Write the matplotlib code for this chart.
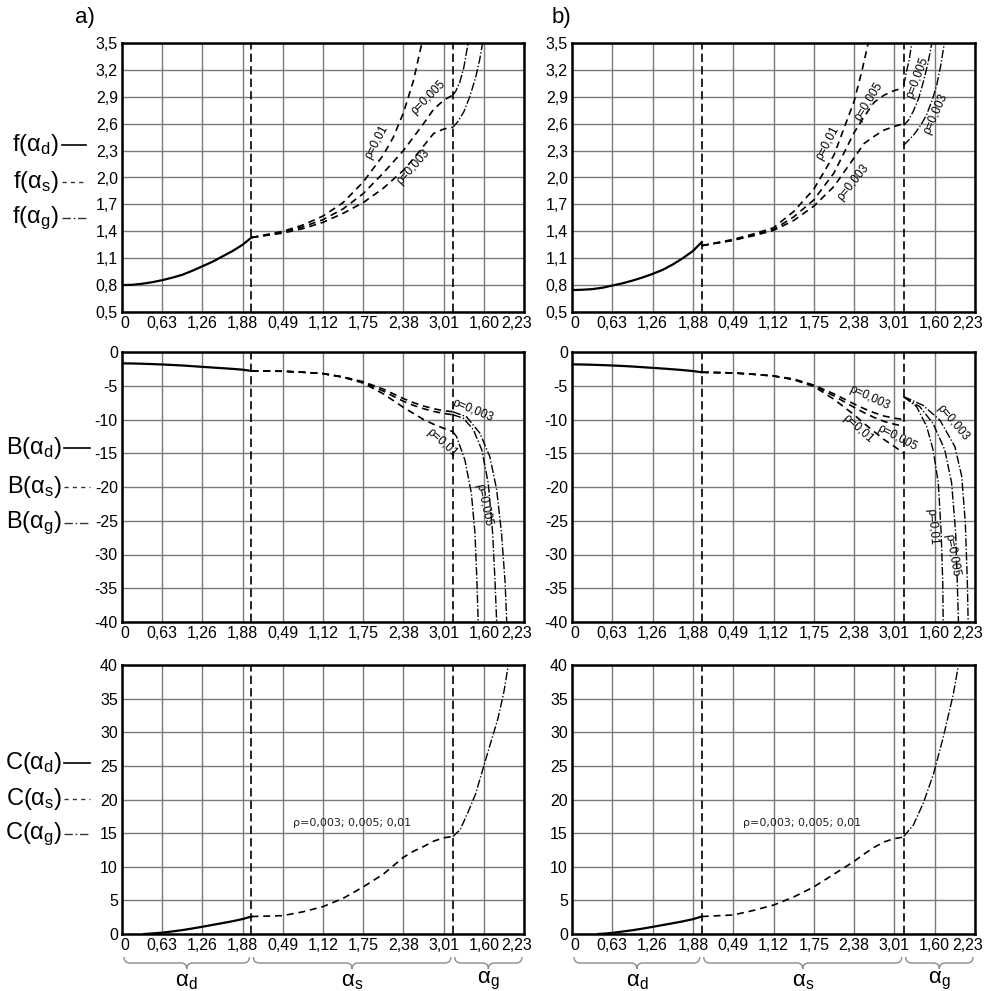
import numpy as np
import matplotlib
matplotlib.use("Agg")
import matplotlib.pyplot as plt
from matplotlib.path import Path
from matplotlib.patches import PathPatch
from matplotlib.lines import Line2D
from matplotlib import font_manager as fm
from matplotlib.transforms import ScaledTranslation


def has_font(name):
    try:
        fm.findfont(fm.FontProperties(family=name), fallback_to_default=False)
        return True
    except Exception:
        return False


TICK_FONT = 'Liberation Sans Narrow' if has_font('Liberation Sans Narrow') else 'Liberation Sans'
TICK_SIZE = 12.5 if TICK_FONT == 'Liberation Sans Narrow' else 11.5

plt.rcParams['font.family'] = [TICK_FONT, 'Liberation Sans', 'DejaVu Sans']
plt.rcParams['lines.scale_dashes'] = False

# ---------------- axis definitions ----------------
# horizontal axis: 11 equally spaced grid positions spanning the three zones
xtick_labels = ['0', '0,63', '1,26', '1,88', '0,49', '1,12', '1,75', '2,38', '3,01', '1,60', '2,23']
zone_bounds = [3.22, 8.23]
zone_names = ['d', 's', 'g']

f_ticks = [0.5, 0.8, 1.1, 1.4, 1.7, 2.0, 2.3, 2.6, 2.9, 3.2, 3.5]
f_ticklabels = ['0,5', '0,8', '1,1', '1,4', '1,7', '2,0', '2,3', '2,6', '2,9', '3,2', '3,5']
B_ticks = [0, -5, -10, -15, -20, -25, -30, -35, -40]
B_ticklabels = ['0', '-5', '-10', '-15', '-20', '-25', '-30', '-35', '-40']
C_ticks = [0, 5, 10, 15, 20, 25, 30, 35, 40]
C_ticklabels = ['0', '5', '10', '15', '20', '25', '30', '35', '40']

# ---------------- data (x in grid positions) ----------------
# zone d (solid)
d_x = [0, 0.25, 0.5, 0.75, 1, 1.25, 1.5, 1.75, 2, 2.25, 2.5, 2.75, 3, 3.22]
f_d_a = [0.80, 0.803, 0.815, 0.832, 0.855, 0.883, 0.915, 0.96, 1.01, 1.06, 1.12, 1.18, 1.25, 1.33]
f_d_b = [0.745, 0.748, 0.755, 0.77, 0.795, 0.82, 0.85, 0.885, 0.925, 0.97, 1.03, 1.10, 1.18, 1.28]
B_d_a = [-1.68, -1.70, -1.74, -1.79, -1.85, -1.92, -2.0, -2.1, -2.2, -2.3, -2.4, -2.5, -2.62, -2.8]
B_d_b = [-1.83, -1.85, -1.89, -1.94, -2.0, -2.07, -2.15, -2.25, -2.35, -2.45, -2.56, -2.68, -2.82, -3.0]
C_d_x_a = [0.55, 0.75, 1, 1.25, 1.5, 1.75, 2, 2.25, 2.5, 2.75, 3, 3.22]
C_d_a = [0.0, 0.08, 0.2, 0.38, 0.58, 0.82, 1.08, 1.35, 1.62, 1.9, 2.22, 2.6]
C_d_x_b = [0.65, 0.85, 1, 1.25, 1.5, 1.75, 2, 2.25, 2.5, 2.75, 3, 3.22]
C_d_b = [0.0, 0.08, 0.17, 0.36, 0.56, 0.8, 1.06, 1.33, 1.6, 1.88, 2.2, 2.6]

# zone s (dashed)
s_x = [3.22, 4, 4.5, 5, 5.5, 6, 6.5, 7, 7.25, 7.5, 7.75, 8, 8.23]
f_s_a_003 = [1.33, 1.38, 1.43, 1.50, 1.60, 1.72, 1.88, 2.08, 2.21, 2.35, 2.49, 2.54, 2.56]
f_s_a_005 = [1.33, 1.39, 1.45, 1.53, 1.65, 1.82, 2.05, 2.30, 2.45, 2.60, 2.76, 2.86, 2.92]
f_s_a_01_x = [3.22, 4, 4.5, 5, 5.5, 6, 6.5, 6.75, 7, 7.25, 7.46]
f_s_a_01 = [1.33, 1.40, 1.47, 1.57, 1.72, 1.95, 2.25, 2.45, 2.72, 3.08, 3.5]
f_s_b_003 = [1.24, 1.30, 1.35, 1.41, 1.52, 1.68, 1.90, 2.22, 2.38, 2.46, 2.53, 2.57, 2.60]
f_s_b_005 = [1.24, 1.30, 1.36, 1.42, 1.56, 1.75, 2.05, 2.50, 2.68, 2.84, 2.92, 2.97, 3.0]
f_s_b_01_x = [3.22, 4, 4.5, 5, 5.5, 6, 6.5, 6.75, 7, 7.2, 7.35]
f_s_b_01 = [1.24, 1.31, 1.37, 1.44, 1.62, 1.87, 2.25, 2.55, 2.85, 3.2, 3.5]

B_s_a_003 = [-2.8, -2.85, -3.0, -3.2, -3.7, -4.4, -5.5, -6.9, -7.5, -8.0, -8.4, -8.7, -8.85]
B_s_a_005 = [-2.8, -2.85, -3.0, -3.2, -3.7, -4.5, -5.8, -7.3, -7.9, -8.4, -8.8, -9.1, -9.3]
B_s_a_01 = [-2.8, -2.85, -3.0, -3.2, -3.75, -4.6, -6.2, -8.2, -9.1, -10.0, -10.7, -11.3, -11.8]
B_s_b_003 = [-3.0, -3.1, -3.3, -3.55, -4.0, -4.9, -6.2, -7.7, -8.4, -9.0, -9.5, -9.8, -10.0]
B_s_b_005 = [-3.0, -3.1, -3.3, -3.55, -4.05, -5.0, -6.5, -8.2, -9.0, -9.7, -10.3, -10.7, -11.0]
B_s_b_01 = [-3.0, -3.1, -3.3, -3.55, -4.1, -5.1, -7.0, -9.3, -10.6, -11.8, -13.0, -14.0, -15.0]

C_s_a = [2.6, 2.73, 3.3, 4.07, 5.3, 7.0, 8.9, 11.4, 12.3, 13.0, 13.8, 14.3, 14.5]
C_s_b = [2.6, 2.83, 3.5, 4.3, 5.5, 7.0, 8.9, 10.8, 11.9, 12.9, 13.7, 14.2, 14.4]

# zone g (dash-dot)
f_g_a_005_x = [8.23, 8.30, 8.40, 8.50, 8.61]
f_g_a_005 = [2.92, 2.96, 3.06, 3.22, 3.5]
f_g_a_003_x = [8.23, 8.35, 8.5, 8.65, 8.8, 8.9, 8.97]
f_g_a_003 = [2.56, 2.62, 2.73, 2.90, 3.12, 3.32, 3.5]
f_g_b_01_x = [8.23, 8.30, 8.37, 8.43]
f_g_b_01 = [3.03, 3.18, 3.32, 3.5]
f_g_b_005_x = [8.23, 8.35, 8.47, 8.6, 8.72, 8.83, 8.93]
f_g_b_005 = [2.58, 2.64, 2.74, 2.88, 3.07, 3.27, 3.5]
f_g_b_003_x = [8.23, 8.47, 8.65, 8.8, 8.95, 9.05, 9.15, 9.24]
f_g_b_003 = [2.36, 2.47, 2.58, 2.70, 2.88, 3.03, 3.25, 3.5]

B_g_a_003_x = [8.23, 8.57, 8.90, 9.15, 9.32, 9.44, 9.53, 9.57]
B_g_a_003 = [-8.85, -9.6, -12.0, -15.5, -20.4, -26.8, -34.1, -40]
B_g_a_005_x = [8.23, 8.49, 8.74, 8.95, 9.11, 9.22, 9.28, 9.32]
B_g_a_005 = [-9.3, -9.8, -11.5, -14.5, -19.4, -26.8, -34.1, -40]
B_g_a_01_x = [8.23, 8.32, 8.53, 8.69, 8.78, 8.83, 8.86]
B_g_a_01 = [-11.8, -12.5, -16.0, -20.9, -26.8, -34.1, -40]
B_g_b_01_x = [8.23, 8.55, 8.8, 8.96, 9.09, 9.16, 9.2, 9.21]
B_g_b_01 = [-6.6, -8.1, -11.0, -14.5, -19.4, -26.8, -34.1, -40]
B_g_b_005_x = [8.23, 8.63, 8.96, 9.25, 9.42, 9.52, 9.56, 9.59]
B_g_b_005 = [-6.7, -8.1, -10.6, -14.5, -19.4, -26.8, -34.1, -40]
B_g_b_003_x = [8.23, 8.71, 9.13, 9.5, 9.67, 9.76, 9.81, 9.83]
B_g_b_003 = [-6.6, -7.9, -10.1, -14.0, -18.4, -25.3, -34.1, -40]

C_g_a_x = [8.23, 8.41, 8.6, 8.8, 9.0, 9.2, 9.35, 9.5, 9.61]
C_g_a = [14.5, 15.5, 18.0, 20.9, 25.0, 29.0, 32.0, 36.0, 40]
C_g_b_x = [8.23, 8.47, 8.72, 8.97, 9.21, 9.46, 9.59]
C_g_b = [14.5, 16.2, 19.5, 23.8, 29.2, 35.6, 40]

# ---------------- styles ----------------
SOLID = dict(color='k', lw=1.6, ls='-')
DASH = dict(color='k', lw=1.2, ls=(0, (5, 3.5)))
DASHDOT = dict(color='k', lw=1.0, ls=(0, (6, 1.5, 1, 1.5)))
SEP = dict(color='k', lw=1.2, ls=(0, (6, 3)))
LBL = dict(fontsize=8.5, family=['Liberation Sans', 'DejaVu Sans'], ha='center', va='center',
           rotation_mode='anchor')

W, H = 988, 991
fig = plt.figure(figsize=(W / 100, H / 100), dpi=100)

col_px = [(122, 524), (572, 975)]
row_px = [(43, 312), (352, 622), (665, 934)]


def make_ax(c, r):
    x0, x1 = col_px[c]
    y0, y1 = row_px[r]
    ax = fig.add_axes([x0 / W, 1 - y1 / H, (x1 - x0) / W, (y1 - y0) / H])
    ax.set_xlim(0, 10)
    ax.set_xticks(range(11))
    ax.set_xticklabels(xtick_labels)
    ax.grid(True, color='#7a7a7a', lw=1.0)
    ax.set_axisbelow(True)
    ax.tick_params(length=0, labelsize=TICK_SIZE, pad=3)
    for s in ax.spines.values():
        s.set_linewidth(1.8)
    for b in zone_bounds:
        ax.axvline(b, **SEP)
    labels = ax.get_xticklabels()
    labels[0].set_transform(labels[0].get_transform() + ScaledTranslation(3 / 100, 0, fig.dpi_scale_trans))
    labels[-1].set_transform(labels[-1].get_transform() + ScaledTranslation(-7 / 100, 0, fig.dpi_scale_trans))
    return ax


axes = {}
for c in range(2):
    for r in range(3):
        axes[(c, r)] = make_ax(c, r)

for c in range(2):
    ax = axes[(c, 0)]
    ax.set_ylim(0.5, 3.5)
    ax.set_yticks(f_ticks)
    ax.set_yticklabels(f_ticklabels)
    ax = axes[(c, 1)]
    ax.set_ylim(-40, 0)
    ax.set_yticks(B_ticks)
    ax.set_yticklabels(B_ticklabels)
    ax = axes[(c, 2)]
    ax.set_ylim(0, 40)
    ax.set_yticks(C_ticks)
    ax.set_yticklabels(C_ticklabels)

# ---- f, panel a
ax = axes[(0, 0)]
ax.plot(d_x, f_d_a, **SOLID)
ax.plot(s_x, f_s_a_003, **DASH)
ax.plot(s_x, f_s_a_005, **DASH)
ax.plot(f_s_a_01_x, f_s_a_01, **DASH)
ax.plot(f_g_a_005_x, f_g_a_005, **DASHDOT)
ax.plot(f_g_a_003_x, f_g_a_003, **DASHDOT)
ax.text(6.34, 2.40, 'ρ=0,01', rotation=62, **LBL)
ax.text(7.61, 2.89, 'ρ=0,005', rotation=45, **LBL)
ax.text(7.24, 2.12, 'ρ=0,003', rotation=48, **LBL)

# ---- f, panel b
ax = axes[(1, 0)]
ax.plot(d_x, f_d_b, **SOLID)
ax.plot(s_x, f_s_b_003, **DASH)
ax.plot(s_x, f_s_b_005, **DASH)
ax.plot(f_s_b_01_x, f_s_b_01, **DASH)
ax.plot(f_g_b_01_x, f_g_b_01, **DASHDOT)
ax.plot(f_g_b_005_x, f_g_b_005, **DASHDOT)
ax.plot(f_g_b_003_x, f_g_b_003, **DASHDOT)
ax.text(6.35, 2.38, 'ρ=0,01', rotation=62, **LBL)
ax.text(7.37, 2.85, 'ρ=0,005', rotation=58, **LBL)
ax.text(6.97, 1.95, 'ρ=0,003', rotation=51, **LBL)
ax.text(8.56, 3.11, 'ρ=0,005', rotation=69, **LBL)
ax.text(9.03, 2.71, 'ρ=0,003', rotation=66, **LBL)

# ---- B, panel a
ax = axes[(0, 1)]
ax.plot(d_x, B_d_a, **SOLID)
ax.plot(s_x, B_s_a_003, **DASH)
ax.plot(s_x, B_s_a_005, **DASH)
ax.plot(s_x, B_s_a_01, **DASH)
ax.plot(B_g_a_003_x, B_g_a_003, **DASHDOT)
ax.plot(B_g_a_005_x, B_g_a_005, **DASHDOT)
ax.plot(B_g_a_01_x, B_g_a_01, **DASHDOT)
ax.text(8.73, -8.6, 'ρ=0,003', rotation=-22, **LBL)
ax.text(7.96, -13.5, 'ρ=0,01', rotation=-42, **LBL)
ax.text(9.0, -22.7, 'ρ=0,005', rotation=-78, **LBL)

# ---- B, panel b
ax = axes[(1, 1)]
ax.plot(d_x, B_d_b, **SOLID)
ax.plot(s_x, B_s_b_003, **DASH)
ax.plot(s_x, B_s_b_005, **DASH)
ax.plot(s_x, B_s_b_01, **DASH)
ax.plot(B_g_b_01_x, B_g_b_01, **DASHDOT)
ax.plot(B_g_b_005_x, B_g_b_005, **DASHDOT)
ax.plot(B_g_b_003_x, B_g_b_003, **DASHDOT)
ax.text(7.39, -6.8, 'ρ=0,003', rotation=-25, **LBL)
ax.text(7.10, -11.4, 'ρ=0,01', rotation=-42, **LBL)
ax.text(8.06, -12.7, 'ρ=0,005', rotation=-28, **LBL)
ax.text(9.45, -10.4, 'ρ=0,003', rotation=-50, **LBL)
ax.text(8.93, -25.9, 'ρ=0,01', rotation=-85, **LBL)
ax.text(9.43, -30.1, 'ρ=0,005', rotation=-80, **LBL)

# ---- C panels
for c, (cdx, cd, cs, cgx, cg) in enumerate([(C_d_x_a, C_d_a, C_s_a, C_g_a_x, C_g_a),
                                             (C_d_x_b, C_d_b, C_s_b, C_g_b_x, C_g_b)]):
    ax = axes[(c, 2)]
    ax.plot(cdx, cd, **SOLID)
    ax.plot(s_x, cs, **DASH)
    ax.plot(cgx, cg, **DASHDOT)
    ax.text(5.72, 16.5, 'ρ=0,003; 0,005; 0,01', fontsize=8, family=['DejaVu Sans'],
            ha='center', va='center', color='#222222')

# ---------------- overlay (legends, letters, braces) ----------------
ov = fig.add_axes([0, 0, 1, 1], zorder=10)
ov.set_xlim(0, W)
ov.set_ylim(H, 0)
ov.axis('off')
ov.patch.set_alpha(0)

LEG_FONT = ['Liberation Sans', 'DejaVu Sans']
legend_rows = [('f', [145, 182, 218], 59, 62, 86),
               ('B', [448, 487, 523], 62, 64, 90),
               ('C', [763, 799, 834], 62, 64, 90)]
leg_styles = [dict(color='k', lw=1.2, ls='-'),
              dict(color='#333333', lw=1.0, ls=(0, (3, 3))),
              dict(color='#333333', lw=1.0, ls=(0, (6, 2, 1.2, 2)))]
for name, ys, xt, xl0, xl1 in legend_rows:
    for z, y, st in zip(zone_names, ys, leg_styles):
        ov.text(xt, y, name + r'($\mathregular{α_{' + z + r'}}$)', fontsize=17, family=LEG_FONT,
                ha='right', va='center')
        ov.add_line(Line2D([xl0, xl1], [y, y], **st))

ov.text(75, 17, 'a)', fontsize=16, family=LEG_FONT, ha='left', va='center')
ov.text(552, 17, 'b)', fontsize=16, family=LEG_FONT, ha='left', va='center')


def brace(x0, x1, y_end=957, y_mid=963, y_tip=969, r=6):
    xm = 0.5 * (x0 + x1)
    verts = [(x0, y_end), (x0, y_mid), (x0 + r, y_mid),
             (xm - r, y_mid),
             (xm, y_mid), (xm, y_tip),
             (xm, y_mid), (xm + r, y_mid),
             (x1 - r, y_mid),
             (x1, y_mid), (x1, y_end)]
    codes = [Path.MOVETO, Path.CURVE3, Path.CURVE3,
             Path.LINETO,
             Path.CURVE3, Path.CURVE3,
             Path.CURVE3, Path.CURVE3,
             Path.LINETO,
             Path.CURVE3, Path.CURVE3]
    ov.add_patch(PathPatch(Path(verts, codes), fill=False, edgecolor='#8c8c8c', lw=1.0))


for c in range(2):
    x0, x1 = col_px[c]
    sc = (x1 - x0) / 10.0
    edges = [x0, x0 + zone_bounds[0] * sc, x0 + zone_bounds[1] * sc, x1]
    for i, z in enumerate(zone_names):
        a, b = edges[i] + 2, edges[i + 1] - 2
        brace(a, b)
        ov.text(0.5 * (a + b), 981, r'$\mathregular{α_{' + z + r'}}$', fontsize=16,
                family=LEG_FONT, ha='center', va='center')

fig.savefig('out.png', dpi=100)
